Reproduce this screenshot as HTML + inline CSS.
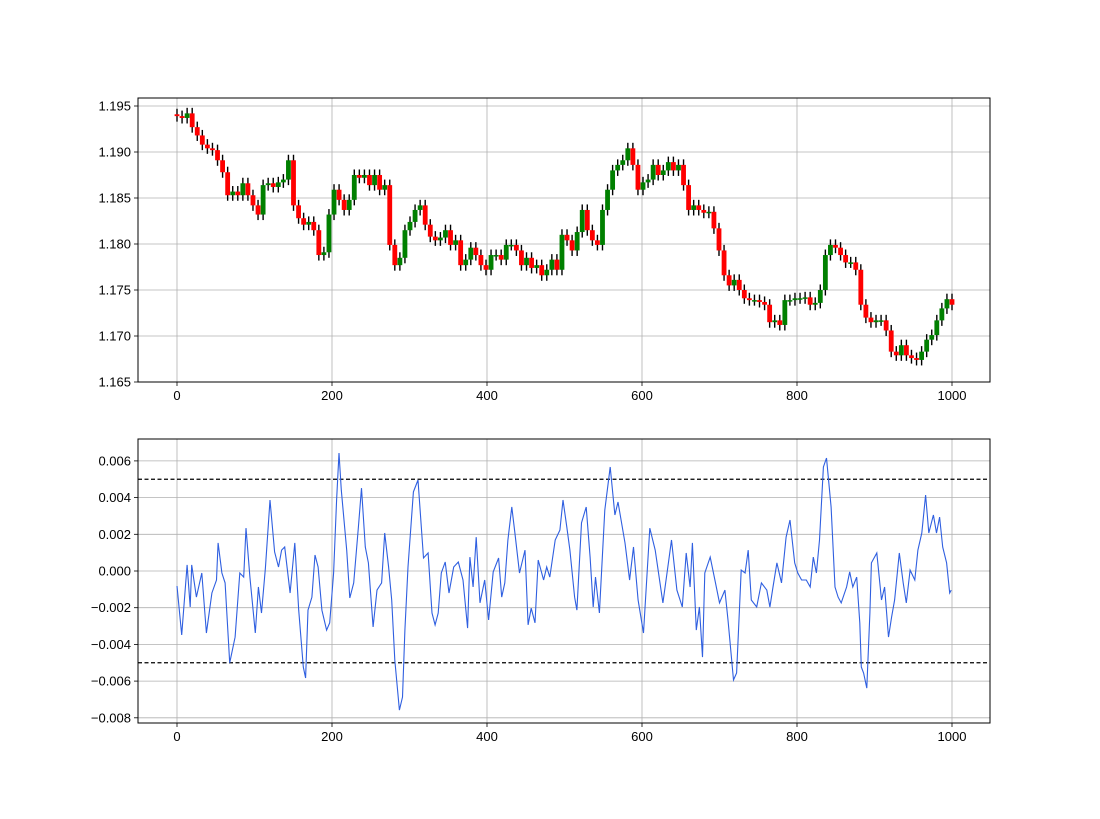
<!DOCTYPE html>
<html><head><meta charset="utf-8"><style>
body{margin:0;background:#fff}
svg text{font-family:"Liberation Sans",sans-serif;font-size:13px;fill:#000}
</style></head><body>
<svg id="chart" width="1100" height="814" xmlns="http://www.w3.org/2000/svg"></svg>
<script>
const priceCloses=[1.1939,1.1937,1.1942,1.1927,1.1918,1.1908,1.1904,1.1902,1.1891,1.1878,1.1853,1.1857,1.1853,1.1866,1.1853,1.1842,1.1832,1.1864,1.1866,1.1862,1.1867,1.1870,1.1891,1.1842,1.1828,1.1821,1.1824,1.1815,1.1788,1.1791,1.1832,1.1859,1.1848,1.1837,1.1848,1.1875,1.1872,1.1875,1.1864,1.1875,1.1859,1.1864,1.1799,1.1777,1.1785,1.1815,1.1824,1.1837,1.1842,1.1821,1.1808,1.1804,1.1807,1.1815,1.1799,1.1804,1.1777,1.1783,1.1796,1.1788,1.1777,1.1772,1.1788,1.1788,1.1783,1.1799,1.1799,1.1793,1.1777,1.1785,1.1774,1.1777,1.1766,1.1772,1.1783,1.1772,1.1810,1.1804,1.1793,1.1813,1.1837,1.1815,1.1804,1.1799,1.1837,1.1859,1.1880,1.1886,1.1891,1.1904,1.1886,1.1859,1.1867,1.1870,1.1886,1.1875,1.1880,1.1889,1.1880,1.1886,1.1864,1.1837,1.1842,1.1837,1.1834,1.1835,1.1817,1.1793,1.1766,1.1755,1.1761,1.1750,1.1741,1.1739,1.1739,1.1737,1.1734,1.1715,1.1717,1.1712,1.1739,1.1739,1.1741,1.1741,1.1742,1.1734,1.1736,1.1750,1.1788,1.1799,1.1796,1.1788,1.1780,1.1780,1.1772,1.1734,1.1720,1.1715,1.1717,1.1717,1.1706,1.1683,1.1679,1.1690,1.1679,1.1676,1.1674,1.1683,1.1696,1.1701,1.1717,1.1730,1.1740,1.1734];
const oscIndex=[0,6,13,17,19,25,32,38,45,51,53,58,62,68,75,81,86,89,94,101,105,109,114,120,126,131,135,139,146,152,157,163,166,169,174,178,182,187,193,197,202,206,209,212,219,223,228,234,238,243,247,253,258,264,268,273,277,281,287,291,294,298,305,311,318,324,329,333,337,341,346,351,357,363,369,375,378,382,386,391,397,402,408,415,419,423,427,432,436,442,449,453,457,462,466,473,477,481,488,494,498,503,507,513,516,522,528,533,537,540,545,552,559,565,569,578,584,589,595,602,610,617,627,634,638,645,652,657,662,665,670,674,678,681,688,694,700,707,711,718,722,728,733,737,741,748,754,761,765,769,774,780,786,791,797,801,806,812,817,821,825,829,834,838,844,849,853,857,864,868,872,877,881,883,886,890,894,896,903,909,913,918,922,926,932,937,941,946,952,956,961,966,970,976,980,984,988,993,997,999];
const oscValues=[-0.00082,-0.00349,0.00033,-0.00196,0.00033,-0.00142,-0.00011,-0.00338,-0.00120,-0.00049,0.00153,-0.00011,-0.00065,-0.00501,-0.00360,-0.00011,-0.00033,0.00234,-0.00033,-0.00338,-0.00087,-0.00229,0.00016,0.00387,0.00104,0.00022,0.00114,0.00131,-0.00120,0.00153,-0.00213,-0.00523,-0.00583,-0.00213,-0.00142,0.00087,0.00022,-0.00213,-0.00322,-0.00283,-0.00011,0.00387,0.00643,0.00441,0.00114,-0.00147,-0.00065,0.00240,0.00452,0.00131,0.00044,-0.00305,-0.00104,-0.00065,0.00207,0.00022,-0.00158,-0.00485,-0.00758,-0.00687,-0.00322,0.00022,0.00431,0.00496,0.00071,0.00098,-0.00229,-0.00294,-0.00229,-0.00011,0.00049,-0.00120,0.00022,0.00049,-0.00049,-0.00311,0.00076,-0.00087,0.00185,-0.00174,-0.00049,-0.00267,-0.00005,0.00071,-0.00142,-0.00065,0.00169,0.00349,0.00207,-0.00011,0.00114,-0.00294,-0.00202,-0.00283,0.00060,-0.00049,0.00022,-0.00033,0.00169,0.00223,0.00387,0.00240,0.00114,-0.00142,-0.00213,0.00262,0.00349,0.00076,-0.00196,-0.00033,-0.00229,0.00332,0.00567,0.00305,0.00376,0.00153,-0.00049,0.00131,-0.00158,-0.00338,0.00234,0.00114,-0.00174,0.00044,0.00169,-0.00104,-0.00196,0.00098,-0.00087,0.00153,-0.00322,-0.00196,-0.00469,-0.00011,0.00076,-0.00049,-0.00174,-0.00104,-0.00267,-0.00594,-0.00556,0.00005,-0.00011,0.00114,-0.00158,-0.00196,-0.00065,-0.00104,-0.00196,-0.00087,0.00044,-0.00065,0.00185,0.00278,0.00044,-0.00011,-0.00049,-0.00049,-0.00087,0.00076,-0.00011,0.00169,0.00567,0.00616,0.00349,-0.00087,-0.00142,-0.00174,-0.00087,-0.00005,-0.00087,-0.00033,-0.00283,-0.00523,-0.00556,-0.00638,-0.00229,0.00044,0.00098,-0.00158,-0.00087,-0.00360,-0.00251,-0.00158,0.00098,-0.00065,-0.00174,0.00005,-0.00049,0.00114,0.00207,0.00414,0.00207,0.00305,0.00207,0.00294,0.00131,0.00044,-0.00120,-0.00104];
const xTicks=[0,200,400,600,800,1000];
const priceTicks=[1.165,1.170,1.175,1.180,1.185,1.190,1.195];
const oscTicks=[-0.008,-0.006,-0.004,-0.002,0,0.002,0.004,0.006];
const thresholds=[0.005,-0.005];

const NS="http://www.w3.org/2000/svg";
const svg=document.getElementById('chart');
function mk(tag,attrs,parent){const e=document.createElementNS(NS,tag);for(const k in attrs)e.setAttribute(k,attrs[k]);(parent||svg).appendChild(e);return e;}
const L=138,R=990;
const xS=v=>177+v*0.775;
const T1=98,B1=382,T2=439,B2=723;
const yP=v=>106+(1.195-v)*9200;
const yO=v=>571-v*18350;

function axes(top,bot,ticks,yf,fmt,name){
  const g=mk('g',{});
  
  
  xTicks.forEach(t=>{const x=xS(t);
    const l=mk('line',{x1:x,x2:x,y1:top,y2:bot,stroke:'#b0b0b0','stroke-width':0.8},g);
    
    mk('line',{x1:x,x2:x,y1:bot,y2:bot+4,stroke:'#000','stroke-width':0.8},g);
    const tx=mk('text',{x:x,y:bot+18,'text-anchor':'middle'},g);tx.textContent=t;
    });
  ticks.forEach(t=>{const y=yf(t);
    const l=mk('line',{x1:L,x2:R,y1:y,y2:y,stroke:'#b0b0b0','stroke-width':0.8},g);
    
    mk('line',{x1:L-4,x2:L,y1:y,y2:y,stroke:'#000','stroke-width':0.8},g);
    const tx=mk('text',{x:L-7,y:y+4.5,'text-anchor':'end'},g);tx.textContent=fmt(t);
    });
  return g;
}
axes(T1,B1,priceTicks,yP,t=>t.toFixed(3),'price-axes');
axes(T2,B2,oscTicks,yO,t=>(t<0?'\u2212':'')+Math.abs(t).toFixed(3),'oscillator-axes');

// candles
const cg=mk('g',{});


const n=priceCloses.length, step=1000/(n-1), bw=step*0.775*0.95;
for(let i=0;i<n;i++){
  const c=priceCloses[i], o=i?priceCloses[i-1]:c+0.0002;
  const hi=Math.max(o,c)+0.0006, lo=Math.min(o,c)-0.0006;
  const x=xS(i*step);
  const w=mk('line',{x1:x,x2:x,y1:yP(hi),y2:yP(lo),stroke:'#000','stroke-width':1.4},cg);
  
  const yt=yP(Math.max(o,c)), h=Math.max(1.5,yP(Math.min(o,c))-yt);
  const b=mk('rect',{x:x-bw/2,y:yt,width:bw,height:h,fill:c>=o?'#008000':'#ff0000'},cg);
  
}

// oscillator
thresholds.forEach(t=>{const l=mk('line',{x1:L,x2:R,y1:yO(t),y2:yO(t),stroke:'#000','stroke-width':1.2,'stroke-dasharray':'4,2.5'});
  });
let d='';
const m=Math.min(oscIndex.length,oscValues.length);
for(let i=0;i<m;i++)d+=(i?'L':'M')+xS(oscIndex[i]).toFixed(1)+','+yO(oscValues[i]).toFixed(1);
const p=mk('path',{d:d,fill:'none',stroke:'#2f5fe0','stroke-width':1.1});


[[T1,B1,'price-plot-frame'],[T2,B2,'oscillator-plot-frame']].forEach(a=>{
  const r=mk('rect',{x:L,y:a[0],width:R-L,height:a[1]-a[0],fill:'none',stroke:'#000','stroke-width':1});
  });
</script>
</body></html>
